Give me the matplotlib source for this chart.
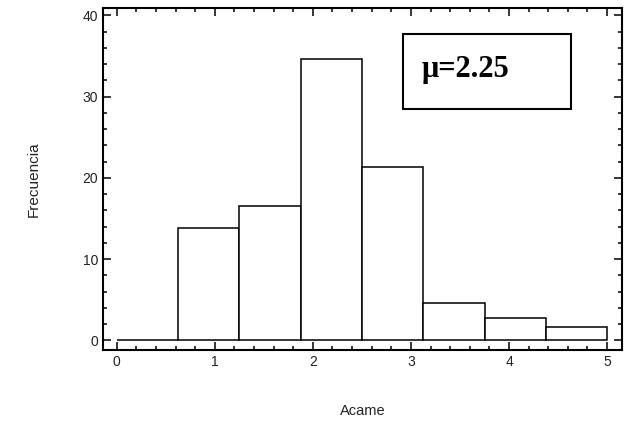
import matplotlib.pyplot as plt
import numpy as np
from matplotlib.ticker import MultipleLocator
from matplotlib.patches import Rectangle

# histogram data
bin_edges = [0, 0.625, 1.25, 1.875, 2.5, 3.125, 3.75, 4.375, 5.0]
frecuencia = [0, 13.8, 16.6, 34.6, 21.4, 4.6, 2.8, 1.6]
mean_label = "\u03bc=2.25"

plt.rcParams['font.family'] = ['Liberation Sans', 'DejaVu Sans']

fig = plt.figure(figsize=(6.3, 4.28), dpi=100)
ax = fig.add_axes([0.1635, 0.182, 0.8235, 0.799])

widths = np.diff(bin_edges)
ax.bar(bin_edges[:-1], frecuencia, width=widths, align='edge',
       facecolor='white', edgecolor='black', linewidth=1.1)

ax.set_xlim(-0.14, 5.15)
ax.set_ylim(-1.2, 40.9)
ax.xaxis.set_major_locator(MultipleLocator(1))
ax.xaxis.set_minor_locator(MultipleLocator(0.2))
ax.yaxis.set_major_locator(MultipleLocator(10))
ax.yaxis.set_minor_locator(MultipleLocator(2))
ax.tick_params(which='both', direction='in', top=True, right=True,
               labelsize=10, width=1.1, labelcolor='#222222')
ax.tick_params(which='major', length=6)
ax.tick_params(which='minor', length=3)
for s in ax.spines.values():
    s.set_linewidth(1.5)

ax.set_xlabel("Acame", fontsize=10.5, labelpad=25, color='#222222')
ax.set_ylabel("Frecuencia", fontsize=11, labelpad=30, color='#222222')

# mean box
ax.add_patch(Rectangle((0.578, 0.705), 0.325, 0.22, transform=ax.transAxes,
                       facecolor='white', edgecolor='black', linewidth=1.5))
ax.text(0.615, 0.822, mean_label, transform=ax.transAxes, fontsize=22,
        fontweight='bold', family=['Liberation Serif', 'DejaVu Serif'],
        va='center', ha='left')

fig.savefig("out.png", dpi=100)
